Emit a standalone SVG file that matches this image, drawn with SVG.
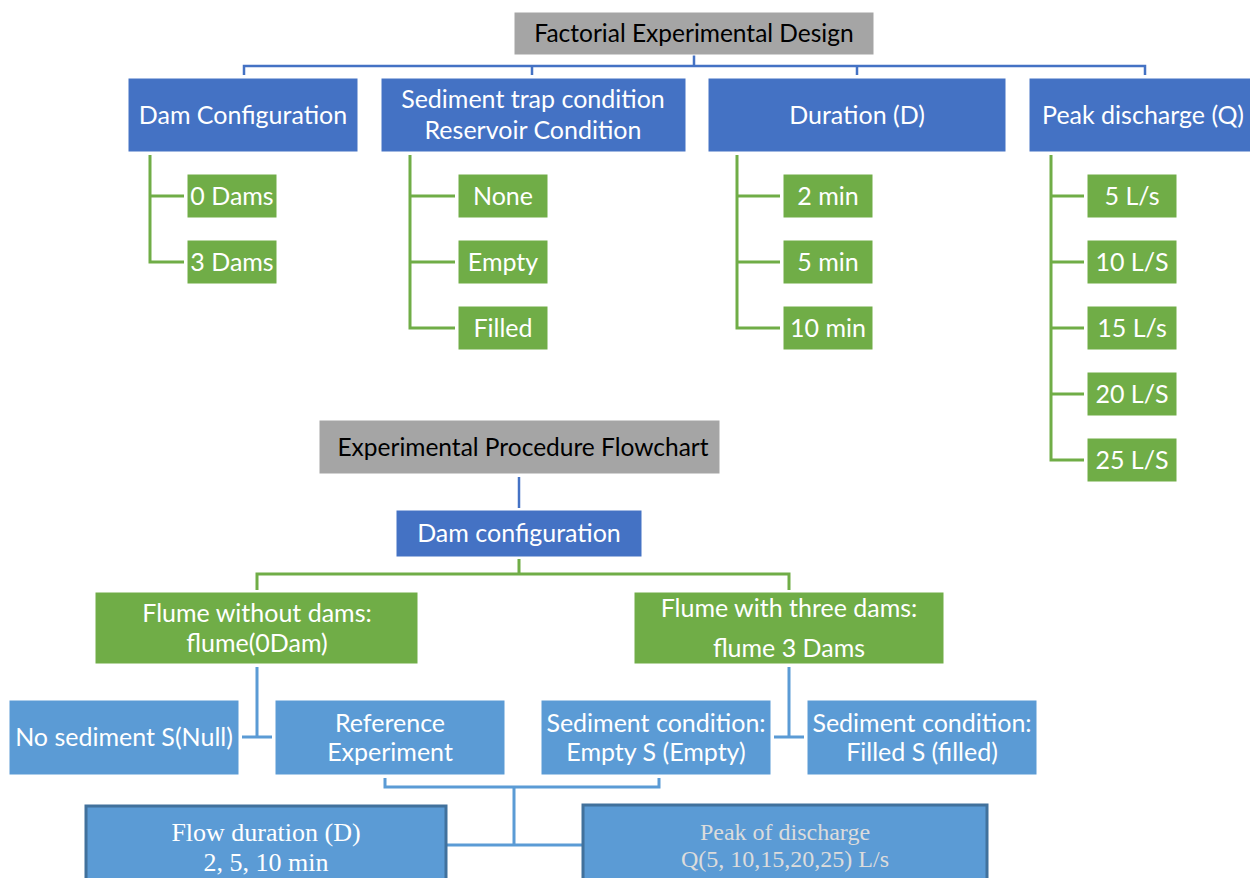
<svg xmlns="http://www.w3.org/2000/svg" width="1250" height="878" viewBox="0 0 1250 878">
<style>
.bg{fill:#ffffff}
.gray{fill:#a5a5a5;stroke:#ffffff;stroke-width:1}
.dblue{fill:#4472c4;stroke:#ffffff;stroke-width:1}
.green{fill:#70ad47;stroke:#ffffff;stroke-width:1}
.lblue{fill:#5b9bd5;stroke:#ffffff;stroke-width:1}
.lbox{fill:#5b9bd5;stroke:#41719c;stroke-width:3}
text{font-family:Lato,"Liberation Sans",sans-serif;font-size:25px;text-anchor:middle}
.w{fill:#ffffff}
.k{fill:#000000;font-size:24.5px}
.serif{font-family:"Liberation Serif","Times New Roman",serif;font-size:26px}
.pale{fill:#dcdcdc;font-size:24px}
.cb{fill:none;stroke:#4472c4;stroke-width:2.5}
.cg{fill:none;stroke:#70ad47;stroke-width:3}
.cl{fill:none;stroke:#5b9bd5;stroke-width:3}
</style>
<rect class="bg" x="0" y="0" width="1250" height="878"/>
<g id="connectors">
<path class="cb" d="M694,55 V66 M244,75 V66 H1145 V75 M532,66 V75 M857,66 V75"/>
<path class="cg" d="M150,155 V262 H184 M150,196 H184"/>
<path class="cg" d="M410,155 V328 H455 M410,196 H455 M410,262 H455"/>
<path class="cg" d="M737,155 V328 H780 M737,196 H780 M737,262 H780"/>
<path class="cg" d="M1051,155 V460 H1084 M1051,196 H1084 M1051,262 H1084 M1051,328 H1084 M1051,394 H1084"/>
<path class="cb" d="M519,477 V508"/>
<path class="cg" d="M519,559 V574 M257,590 V574 H789 V590"/>
<path class="cl" d="M257,667 V737 M242,737 H272 M789,667 V737 M774,737 H804"/>
<path class="cl" d="M385,778 V787 H659 V778 M514,787 V845 M446,845 H583"/>
</g>
<g id="title-factorial"><rect class="gray" x="514" y="12" width="360" height="43"/><text class="k" x="694" y="42">Factorial Experimental Design</text></g>
<g id="dam-configuration"><rect class="dblue" x="128" y="78" width="230" height="74"/><text class="w" x="243" y="124">Dam Configuration</text></g>
<g id="sediment-trap"><rect class="dblue" x="381" y="78" width="305" height="74"/><text class="w" x="533" y="108">Sediment trap condition</text><text class="w" x="533" y="139">Reservoir Condition</text></g>
<g id="duration"><rect class="dblue" x="708" y="78" width="298" height="74"/><text class="w" x="857" y="124">Duration (D)</text></g>
<g id="peak-discharge"><rect class="dblue" x="1029" y="78" width="222" height="74"/><text class="w" x="1143" y="124">Peak discharge (Q)</text></g>
<g id="dams-0"><rect class="green" x="187" y="174" width="90" height="44"/><text class="w" x="232" y="205">0 Dams</text></g>
<g id="dams-3"><rect class="green" x="187" y="240" width="90" height="44"/><text class="w" x="232" y="271">3 Dams</text></g>
<g id="sed-none"><rect class="green" x="458" y="174" width="90" height="44"/><text class="w" x="503" y="205">None</text></g>
<g id="sed-empty"><rect class="green" x="458" y="240" width="90" height="44"/><text class="w" x="503" y="271">Empty</text></g>
<g id="sed-filled"><rect class="green" x="458" y="306" width="90" height="44"/><text class="w" x="503" y="337">Filled</text></g>
<g id="dur-2"><rect class="green" x="783" y="174" width="90" height="44"/><text class="w" x="828" y="205">2 min</text></g>
<g id="dur-5"><rect class="green" x="783" y="240" width="90" height="44"/><text class="w" x="828" y="271">5 min</text></g>
<g id="dur-10"><rect class="green" x="783" y="306" width="90" height="44"/><text class="w" x="828" y="337">10 min</text></g>
<g id="q-5"><rect class="green" x="1087" y="174" width="90" height="44"/><text class="w" x="1132" y="205">5 L/s</text></g>
<g id="q-10"><rect class="green" x="1087" y="240" width="90" height="44"/><text class="w" x="1132" y="271">10 L/S</text></g>
<g id="q-15"><rect class="green" x="1087" y="306" width="90" height="44"/><text class="w" x="1132" y="337">15 L/s</text></g>
<g id="q-20"><rect class="green" x="1087" y="372" width="90" height="44"/><text class="w" x="1132" y="403">20 L/S</text></g>
<g id="q-25"><rect class="green" x="1087" y="438" width="90" height="44"/><text class="w" x="1132" y="469">25 L/S</text></g>
<g id="title-procedure"><rect class="gray" x="319" y="420" width="401" height="54"/><text class="k" x="523" y="456">Experimental Procedure Flowchart</text></g>
<g id="dam-config-2"><rect class="dblue" x="396" y="510" width="246" height="47"/><text class="w" x="519" y="542">Dam configuration</text></g>
<g id="flume-0"><rect class="green" x="95" y="592" width="323" height="72"/><text class="w" x="257" y="622">Flume without dams:</text><text class="w" x="257" y="652">flume(0Dam)</text></g>
<g id="flume-3"><rect class="green" x="634" y="592" width="310" height="72"/><text class="w" x="789" y="617">Flume with three dams:</text><text class="w" x="789" y="657">flume 3 Dams</text></g>
<g id="no-sediment"><rect class="lblue" x="9" y="700" width="230" height="75"/><text class="w" x="124" y="746">No sediment S(Null)</text></g>
<g id="reference"><rect class="lblue" x="275" y="700" width="230" height="75"/><text class="w" x="390" y="732">Reference</text><text class="w" x="390" y="761">Experiment</text></g>
<g id="sed-empty-2"><rect class="lblue" x="541" y="700" width="230" height="75"/><text class="w" x="656" y="732">Sediment condition:</text><text class="w" x="656" y="761">Empty S (Empty)</text></g>
<g id="sed-filled-2"><rect class="lblue" x="807" y="700" width="230" height="75"/><text class="w" x="922" y="732">Sediment condition:</text><text class="w" x="922" y="761">Filled S (filled)</text></g>
<g id="flow-duration"><rect class="lbox" x="86" y="806" width="360" height="90"/><text class="w serif" x="266" y="841">Flow duration (D)</text><text class="w serif" x="266" y="871">2, 5, 10 min</text></g>
<g id="peak-of-discharge"><rect class="lbox" x="583" y="805" width="404" height="90"/><text class="serif pale" x="785" y="840">Peak of discharge</text><text class="serif pale" x="785" y="867">Q(5, 10,15,20,25) L/s</text></g>
</svg>
